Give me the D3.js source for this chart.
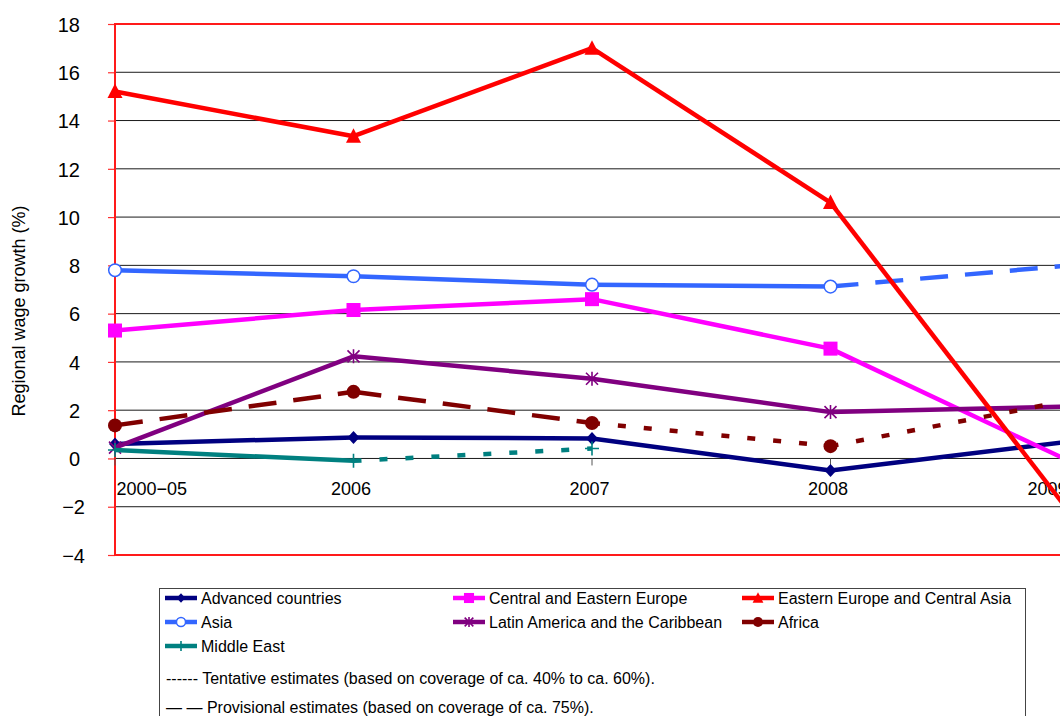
<!DOCTYPE html>
<html>
<head>
<meta charset="utf-8">
<script src="https://cdn.jsdelivr.net/npm/d3@7"></script>
<style>
  html, body { margin: 0; padding: 0; background: #fff; }
  svg { display: block; font-family: "Liberation Sans", Arial, sans-serif; }
</style>
</head>
<body>
<svg id="chart" width="1060" height="716"></svg>
<script>
// ---- data ---------------------------------------------------------------
const categories = ["2000\u221205", "2006", "2007", "2008", "2009"];
const yTickValues = [-4, -2, 0, 2, 4, 6, 8, 10, 12, 14, 16, 18];

const seriesNames = [
  "Advanced countries",
  "Central and Eastern Europe",
  "Eastern Europe and Central Asia",
  "Asia",
  "Latin America and the Caribbean",
  "Africa",
  "Middle East"
];

// regional wage growth, % per year
const advancedValues     = [0.6, 0.87, 0.83, -0.5, 0.7];
const ceEuropeValues     = [5.3, 6.15, 6.6, 4.55, -0.1];
const eeCentralAsiaValues = [15.2, 13.35, 17.0, 10.6, -2.2];
const asiaValues         = [7.8, 7.55, 7.2, 7.12, 8.0];
const latinAmericaValues = [0.45, 4.23, 3.3, 1.92, 2.15];
const africaValues       = [1.37, 2.76, 1.47, 0.51, 2.4];
const middleEastValues   = [0.35, -0.1, 0.41, null, null];

// estimate quality of each segment between consecutive periods
const advancedQuality     = ["final", "final", "final", "final"];
const ceEuropeQuality     = ["final", "final", "final", "final"];
const eeCentralAsiaQuality = ["final", "final", "final", "final"];
const asiaQuality         = ["final", "final", "final", "provisional"];
const latinAmericaQuality = ["final", "final", "final", "final"];
const africaQuality       = ["provisional", "provisional", "tentative", "tentative"];
const middleEastQuality   = ["final", "tentative"];

const legendNotes = [
  "------ Tentative estimates (based on coverage of ca. 40% to ca. 60%).",
  "\u2014 \u2014 Provisional estimates (based on coverage of ca. 75%)."
];

// ---- series table --------------------------------------------------------
const series = [
  { name: seriesNames[0], values: advancedValues,      quality: advancedQuality,      color: "#000080", marker: "diamond" },
  { name: seriesNames[1], values: ceEuropeValues,      quality: ceEuropeQuality,      color: "#FF00FF", marker: "square" },
  { name: seriesNames[2], values: eeCentralAsiaValues, quality: eeCentralAsiaQuality, color: "#FF0000", marker: "triangle" },
  { name: seriesNames[3], values: asiaValues,          quality: asiaQuality,          color: "#3366FF", marker: "ring" },
  { name: seriesNames[4], values: latinAmericaValues,  quality: latinAmericaQuality,  color: "#800080", marker: "star" },
  { name: seriesNames[5], values: africaValues,        quality: africaQuality,        color: "#800000", marker: "dot" },
  { name: seriesNames[6], values: middleEastValues,    quality: middleEastQuality,    color: "#008080", marker: "plus" }
];
// the red series is painted on top of the others
const drawOrder = [0, 1, 3, 4, 5, 6, 2];

const dashFor = { final: null, provisional: "28,17", tentative: "8,18" };

// ---- layout ---------------------------------------------------------------
const svg = d3.select("#chart");
const plot = { left: 115, right: 1069, top: 24, bottom: 555 };

const x = d3.scalePoint().domain(categories).range([plot.left, plot.right]).padding(0);
const y = d3.scaleLinear().domain([-4, 18]).range([plot.bottom, plot.top]);

// gridlines
svg.append("g")
  .selectAll("line")
  .data(yTickValues.filter(v => v > -4 && v < 18))
  .join("line")
  .attr("x1", plot.left).attr("x2", 1060)
  .attr("y1", d => y(d)).attr("y2", d => y(d))
  .attr("stroke", "#1a1a1a").attr("stroke-width", 1);

// y axis: red ticks and labels
const yAxis = d3.axisLeft(y).tickValues(yTickValues).tickSize(7).tickPadding(0)
  .tickFormat(d => d < 0 ? "\u2212" + Math.abs(d) : String(d));
const yAxisG = svg.append("g").attr("transform", `translate(${plot.left},0)`).call(yAxis);
yAxisG.select(".domain").remove();
yAxisG.selectAll(".tick line").attr("stroke", "#FF3030").attr("stroke-width", 1.2);
yAxisG.selectAll(".tick text")
  .attr("x", d => d < 0 ? -30 : -35)
  .attr("dy", "0.36em")
  .attr("font-size", 20)
  .attr("font-family", "Liberation Sans, Arial, sans-serif")
  .attr("fill", "#000");

// plot border
svg.append("rect")
  .attr("x", plot.left).attr("y", plot.top)
  .attr("width", 1200).attr("height", plot.bottom - plot.top)
  .attr("fill", "none").attr("stroke", "#FF1A1A").attr("stroke-width", 2);

// category ticks on the zero line
svg.append("g")
  .selectAll("line")
  .data(categories)
  .join("line")
  .attr("x1", d => x(d)).attr("x2", d => x(d))
  .attr("y1", y(0)).attr("y2", y(0) + 7)
  .attr("stroke", "#555").attr("stroke-width", 1);

// category labels, kept inside the plot area at the edges
const catLabels = svg.append("g")
  .selectAll("text")
  .data(categories)
  .join("text")
  .attr("y", 495)
  .attr("font-size", 18)
  .attr("fill", "#000")
  .text(d => d);
catLabels.each(function (d) {
  const w = this.getComputedTextLength();
  let left = x(d) - 2.5 - w / 2;
  left = Math.max(plot.left + 1.5, Math.min(plot.right - 1.5 - w, left));
  d3.select(this).attr("x", left);
});

// y axis title
svg.append("text")
  .attr("transform", "translate(25,311) rotate(-90)")
  .attr("text-anchor", "middle")
  .attr("font-size", 18)
  .attr("fill", "#000")
  .text("Regional wage growth (%)");

// ---- markers ---------------------------------------------------------------
function drawMarker(g, type, color, s) {
  switch (type) {
    case "diamond":
      g.append("path").attr("d", `M0,${-6.5 * s}L${6 * s},0L0,${6.5 * s}L${-6 * s},0Z`).attr("fill", color);
      break;
    case "square":
      g.append("rect").attr("x", -7 * s).attr("y", -7 * s).attr("width", 14 * s).attr("height", 14 * s).attr("fill", color);
      break;
    case "triangle":
      g.append("path").attr("d", `M0,${-8 * s}L${7.5 * s},${6.5 * s}L${-7.5 * s},${6.5 * s}Z`).attr("fill", color);
      break;
    case "ring":
      g.append("circle").attr("r", 6.3 * s).attr("fill", "#fff").attr("stroke", color).attr("stroke-width", 1.5);
      break;
    case "dot":
      g.append("circle").attr("r", 7 * s).attr("fill", color);
      break;
    case "star":
      g.append("path")
        .attr("d", `M0,${-7 * s}V${7 * s}M${-6 * s},${-6 * s}L${6 * s},${6 * s}M${6 * s},${-6 * s}L${-6 * s},${6 * s}`)
        .attr("stroke", color).attr("stroke-width", 1.6).attr("fill", "none");
      break;
    case "plus":
      g.append("path")
        .attr("d", `M0,${-7 * s}V${7 * s}M${-7 * s},0H${7 * s}`)
        .attr("stroke", color).attr("stroke-width", 1.6).attr("fill", "none");
      break;
  }
}

// ---- series ---------------------------------------------------------------
const line = d3.line().x(d => x(d.cat)).y(d => y(d.v));
const seriesLayer = svg.append("g");

drawOrder.forEach(i => {
  const s = series[i];
  const g = seriesLayer.append("g");
  const pts = s.values.map((v, k) => ({ cat: categories[k], v }));
  for (let k = 0; k < pts.length - 1; k++) {
    if (pts[k].v == null || pts[k + 1].v == null) continue;
    const dash = dashFor[s.quality[k]];
    g.append("path")
      .attr("d", line([pts[k], pts[k + 1]]))
      .attr("fill", "none")
      .attr("stroke", s.color)
      .attr("stroke-width", 4.5)
      .attr("stroke-linejoin", "round")
      .attr("stroke-dasharray", dash);
  }
  pts.forEach(p => {
    if (p.v == null) return;
    const m = g.append("g").attr("transform", `translate(${x(p.cat)},${y(p.v)})`);
    drawMarker(m, s.marker, s.color, 1);
  });
});

// ---- legend ---------------------------------------------------------------
const legend = svg.append("g");
legend.append("rect")
  .attr("x", 159.5).attr("y", 588.5).attr("width", 866).attr("height", 160)
  .attr("fill", "#fff").attr("stroke", "#444").attr("stroke-width", 1);

const colX = [165, 453, 742];
const rowY = [598, 622, 646];
series.forEach((s, i) => {
  const cx = colX[i % 3], cy = rowY[Math.floor(i / 3)];
  const item = legend.append("g").attr("transform", `translate(${cx},${cy})`);
  item.append("line").attr("x1", 0).attr("x2", 32).attr("y1", 0).attr("y2", 0)
    .attr("stroke", s.color).attr("stroke-width", 4.5);
  drawMarker(item.append("g").attr("transform", "translate(16,0)"), s.marker, s.color, 0.72);
  item.append("text").attr("x", 36).attr("y", 5.5).attr("font-size", 16).attr("fill", "#000").text(s.name);
});

legend.selectAll("text.note")
  .data(legendNotes)
  .join("text")
  .attr("class", "note")
  .attr("x", 166)
  .attr("y", (d, i) => 684 + i * 28.5)
  .attr("font-size", 16)
  .attr("fill", "#000")
  .text(d => d);
</script>
</body>
</html>
